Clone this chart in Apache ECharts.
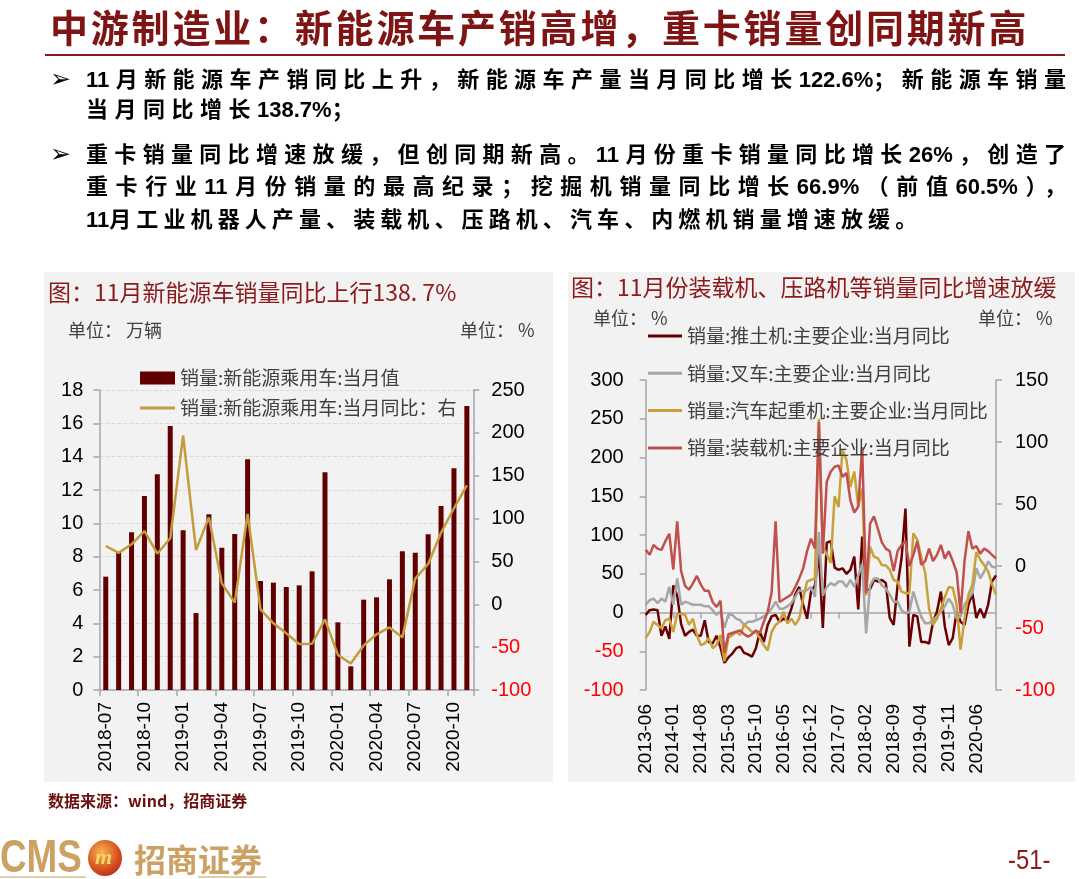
<!DOCTYPE html>
<html><head><meta charset="utf-8">
<script src="https://cdn.jsdelivr.net/npm/echarts@6/dist/echarts.min.js"></script>
<style>
html,body{margin:0;padding:0;background:#fff;width:1080px;height:879px;overflow:hidden;}
#chart{position:absolute;left:0;top:0;width:1080px;height:879px;}
.panel{position:absolute;background:#F2F2F2;}
.t{position:absolute;white-space:nowrap;font-family:"Liberation Sans","Noto Sans CJK SC",sans-serif;}
.b{font-weight:bold;font-size:22px;line-height:30px;color:#000;}
.j{width:980px;text-align:justify;text-align-last:justify;}
.n{letter-spacing:0;}
.arrow{position:absolute;font-family:"DejaVu Sans";font-size:25px;color:#000;line-height:30px;}
</style></head><body>
<div class="panel" style="left:44px;top:272px;width:509px;height:510px"></div>
<div class="panel" style="left:568px;top:272px;width:507px;height:510px"></div>
<div id="chart"></div>

<div class="t" style="left:50px;top:4px;font-size:38px;line-height:44px;font-weight:bold;color:#7F1414;letter-spacing:2.8px;font-family:'Noto Sans CJK SC';">中游制造业：新能源车产销高增，重卡销量创同期新高</div>
<div style="position:absolute;left:45px;top:54px;width:1020px;height:2px;background:#8B1A1A;"></div>

<div class="arrow" style="left:50px;top:64px;">➢</div>
<div class="t b j" style="left:86px;top:65px;">11月新能源车产销同比上升，新能源车产量当月同比增长122.6%；新能源车销量</div>
<div class="t b" style="left:86px;top:95px;letter-spacing:6.5px;">当月同比增长<span class="n">138.7%</span>；</div>
<div class="arrow" style="left:50px;top:139px;">➢</div>
<div class="t b j" style="left:86px;top:140px;">重卡销量同比增速放缓，但创同期新高。11月份重卡销量同比增长26%，创造了</div>
<div class="t b j" style="left:86px;top:172px;">重卡行业11月份销量的最高纪录；挖掘机销量同比增长66.9%（前值60.5%），</div>
<div class="t b" style="left:86px;top:205px;letter-spacing:5.1px;"><span class="n">11</span>月工业机器人产量、装载机、压路机、汽车、内燃机销量增速放缓。</div>

<div class="t" style="left:48px;top:789px;font-size:16px;line-height:22px;font-weight:bold;color:#6B1010;font-family:'Noto Sans CJK SC';">数据来源：wind，招商证券</div>

<div class="t" style="left:0px;top:832px;font-size:46px;line-height:48px;font-weight:bold;color:#CDA163;transform:scaleX(0.8);transform-origin:0 0;">CMS</div>
<div style="position:absolute;left:0px;top:876px;width:86px;height:2px;background:#E3CFA6;"></div>
<div style="position:absolute;left:88px;top:840px;width:34px;height:36px;border-radius:50%;background:radial-gradient(circle at 40% 35%,#F7B54C,#D2461E 60%,#9A1E10);"></div>
<div class="t" style="left:95px;top:842px;font-size:22px;line-height:30px;font-weight:bold;font-style:italic;color:#F8D56B;font-family:'Liberation Serif';">m</div>
<div class="t" style="left:134px;top:838px;font-size:32px;line-height:40px;font-weight:bold;color:#CDA163;font-family:'Noto Sans CJK SC';">招商证券</div>
<div style="position:absolute;left:198px;top:876px;width:68px;height:2px;background:#E3CFA6;"></div>
<div class="t" style="left:1008px;top:844px;font-size:28px;line-height:32px;color:#8B1A1A;transform:scaleX(0.85);transform-origin:0 0;">-51-</div>

<script>
// ---------- Left chart data ----------
const nevMonths = ['2018-07','2018-08','2018-09','2018-10','2018-11','2018-12',
  '2019-01','2019-02','2019-03','2019-04','2019-05','2019-06','2019-07','2019-08','2019-09','2019-10','2019-11','2019-12',
  '2020-01','2020-02','2020-03','2020-04','2020-05','2020-06','2020-07','2020-08','2020-09','2020-10','2020-11'];
const nevSales = [6.8, 8.3, 9.46, 11.64, 12.94, 15.84, 9.58, 4.62, 10.54, 8.54, 9.36, 13.84, 6.54, 6.44, 6.18, 6.28, 7.12, 13.06,
  4.06, 1.42, 5.42, 5.56, 6.64, 8.32, 8.24, 9.34, 11.04, 13.3, 17.04];
const nevYoy = [68, 60, 70, 85.5, 59, 77, 196.7, 63.3, 101.4, 24.4, 1.9, 105.3, -5.9, -22.2, -33.9, -46.4, -46, -17.6,
  -59, -69, -48, -35, -27, -38.6, 30, 47, 83.5, 112, 138.7];

// ---------- Right chart data ----------
const machMonths = ['2013-06','2013-07','2013-08','2013-09','2013-10','2013-11','2013-12',
  '2014-01','2014-02','2014-03','2014-04','2014-05','2014-06','2014-07','2014-08','2014-09','2014-10','2014-11','2014-12',
  '2015-01','2015-02','2015-03','2015-04','2015-05','2015-06','2015-07','2015-08','2015-09','2015-10','2015-11','2015-12',
  '2016-01','2016-02','2016-03','2016-04','2016-05','2016-06','2016-07','2016-08','2016-09','2016-10','2016-11','2016-12',
  '2017-01','2017-02','2017-03','2017-04','2017-05','2017-06','2017-07','2017-08','2017-09','2017-10','2017-11','2017-12',
  '2018-01','2018-02','2018-03','2018-04','2018-05','2018-06','2018-07','2018-08','2018-09','2018-10','2018-11','2018-12',
  '2019-01','2019-02','2019-03','2019-04','2019-05','2019-06','2019-07','2019-08','2019-09','2019-10','2019-11','2019-12',
  '2020-01','2020-02','2020-03','2020-04','2020-05','2020-06','2020-07','2020-08','2020-09','2020-10','2020-11'];
const bulldozer = [-3, 3, 4, 3, -30, -18, -34, 35, 22, -15,
  -30, -25, -22, -30, -30, -10, -38, -40, -30, -45,
  -65, -58, -53, -46, -44, -52, -54, -57, -46, -25,
  -38, -16, -5, -3, -12, -8, -10, 5, 23, 33,
  10, -8, 27, 35, 78, -20, 90, 92, 58, 55,
  57, 50, 55, 72, 4, 98, 29, 30, 42, 40,
  42, 38, -7, -16, 35, 70, 134, -44, -3, -5,
  -38, -38, -40, -12, 1, 27, -18, -42, -33, 1,
  -12, -16, 10, 25, -7, 5, -7, 10, 40, 48];
const forklift = [10, 16, 18, 12, 18, 14, 33, 10, 44, 10,
  14, 12, 10, 10, 10, 8, 8, 3, -3, 1,
  -20, -3, -3, -8, -10, -16, -12, -12, -10, -8,
  -5, -1, 5, 14, 5, 5, 8, 12, 20, 29,
  27, 29, 33, 20, 104, 22, 33, 38, 35, 40,
  40, 33, 42, 33, 48, 63, -27, 35, 44, 44,
  35, 31, 23, 14, 14, 3, -1, 1, 27, 10,
  -5, -14, -14, -10, -5, 1, 8, 18, 10, -8,
  -5, 10, 18, 25, 57, 44, 53, 66, 59, 58];
const crane = [-33, -25, -12, -16, -20, -10, -8, -25, -2, -2,
  -3, -16, -8, -29, -42, -40, -33, -46, -42, -29,
  -63, -33, -29, -25, -29, -16, -20, -25, -25, -33,
  -42, -49, -25, -16, -12, 1, -14, -8, -16, -8,
  18, 40, 42, 44, 250, 85, 75, 64, 150, 136,
  210, 197, 162, 182, 137, 160, 22, 85, 72, 70,
  61, 61, 55, 42, 40, 27, 25, 25, 102, 94,
  72, 51, 5, -16, -8, 5, 20, 33, 32, 10,
  -48, -8, 23, 36, 78, 68, 61, 53, 36, 23];
const loader = [13, 9, 17, 14, 13, 20, 26, -3, 36, -4,
  -16, -19, -14, -8, -15, -20, -20, -29, -33, -28,
  -70, -55, -54, -53, -52, -55, -57, -55, -52, -54,
  -45, -37, -21, 36, -29, -27, -25, -23, -17, -10,
  -2, 12, 22, 14, 116, 10, 68, 76, 80, 81,
  72, 75, 53, 43, 48, 96, -22, 34, 40, 30,
  19, 14, 12, -4, 12, 17, 20, 0, 9, 20,
  1, 4, 14, 4, 9, 17, 6, 12, 4, -5,
  -38, 4, 28, 14, 16, 10, 14, 12, 9, 6];

const leftNames = ['销量:新能源乘用车:当月值', '销量:新能源乘用车:当月同比：右'];
const rightNames = ['销量:推土机:主要企业:当月同比', '销量:叉车:主要企业:当月同比',
  '销量:汽车起重机:主要企业:当月同比', '销量:装载机:主要企业:当月同比'];

const NUM = 'Liberation Sans';
const CJK = 'Noto Sans CJK SC';
const AX = '#A6A6A6';
const negRed = v => (parseFloat(v) < 0 ? '#FF0000' : '#000000');
// line-shaped legend icons (thin bar centred in the icon box)
const lineIconL = 'path://M0,0L35,0L35,0.01L0,0.01Z M0,5L35,5L35,8L0,8Z M0,12.99L35,12.99L35,13L0,13Z';
const lineIconR = 'path://M0,0L34,0L34,0.01L0,0.01Z M0,5.5L34,5.5L34,8.5L0,8.5Z M0,13.99L34,13.99L34,14L0,14Z';

function valAxis(grid, min, max, interval, pos, margin, colorFn, split) {
  return {
    type: 'value', gridIndex: grid, min: min, max: max, interval: interval, position: pos,
    axisLine: { show: true, onZero: false, lineStyle: { color: AX, width: 1.5 } },
    axisTick: { show: true, length: 6, lineStyle: { color: AX, width: 1.5 } },
    axisLabel: { fontSize: 20, fontFamily: NUM, color: colorFn, margin: margin },
    splitLine: split ? { show: true, lineStyle: { color: '#DADADA', type: 'dashed' } } : { show: false }
  };
}

const chart = echarts.init(document.getElementById('chart'));
const option = {
  animation: false,
  grid: [
    { left: 99.3, right: 1080 - 473.3, top: 390, bottom: 879 - 690 },
    { left: 645.7, right: 1080 - 996, top: 380, bottom: 879 - 690 }
  ],
  xAxis: [
    { type: 'category', gridIndex: 0, data: nevMonths, boundaryGap: true,
      axisLine: { onZero: false, lineStyle: { color: AX, width: 1.5 } },
      axisTick: { show: true, interval: 2, alignWithLabel: false, length: 6, lineStyle: { color: AX, width: 1.5 } },
      axisLabel: { interval: 2, rotate: 90, fontSize: 19, fontFamily: NUM, color: '#000', margin: 12 } },
    { type: 'category', gridIndex: 1, data: machMonths, boundaryGap: false, position: 'bottom',
      axisLine: { show: false, onZero: false }, axisTick: { show: false },
      axisLabel: { interval: 6, rotate: 90, fontSize: 19, fontFamily: NUM, color: '#000', margin: 14 } },
    { type: 'category', gridIndex: 1, data: machMonths, boundaryGap: false, position: 'top',
      axisLine: { show: true, onZero: true, onZeroAxisIndex: 2, lineStyle: { color: AX, width: 1.5 } },
      axisTick: { show: true, interval: 6, inside: true, length: 6, lineStyle: { color: AX, width: 1.5 } },
      axisLabel: { show: false } }
  ],
  yAxis: [
    valAxis(0, 0, 18, 2, 'left', 16, '#000', true),
    valAxis(0, -100, 250, 50, 'right', 18, negRed, false),
    valAxis(1, -100, 300, 50, 'left', 22, negRed, false),
    valAxis(1, -100, 150, 50, 'right', 19, negRed, false)
  ],
  legend: [
    { data: [{ name: leftNames[0], icon: 'rect' }, { name: leftNames[1], icon: lineIconL }],
      orient: 'vertical', left: 135, top: 363, itemWidth: 35, itemHeight: 13, itemGap: 10, selectedMode: false,
      itemStyle: { borderWidth: 0 },
      textStyle: { fontSize: 19, fontFamily: CJK, color: '#404040', lineHeight: 20 } },
    { data: rightNames.map(n => ({ name: n, icon: lineIconR })), orient: 'vertical', left: 643, top: 321,
      itemWidth: 34, itemHeight: 14, itemGap: 17.3, selectedMode: false, itemStyle: { borderWidth: 0 },
      textStyle: { fontSize: 19, fontFamily: CJK, color: '#404040', lineHeight: 20 } }
  ],
  graphic: [
    { type: 'text', x: 48, y: 292, style: { text: '图：11月新能源车销量同比上行138. 7%', fill: '#8B1A1A', font: '23px "Noto Sans CJK SC"', verticalAlign: 'middle' } },
    { type: 'text', x: 571, y: 287, style: { text: '图：11月份装载机、压路机等销量同比增速放缓', fill: '#8B1A1A', font: '23px "Noto Sans CJK SC"', verticalAlign: 'middle' } },
    { type: 'text', x: 68, y: 330, style: { text: '单位： 万辆', fill: '#404040', font: '18px "Noto Sans CJK SC"', verticalAlign: 'middle' } },
    { type: 'text', x: 460, y: 330, style: { text: '单位： %', fill: '#404040', font: '18px "Noto Sans CJK SC"', verticalAlign: 'middle' } },
    { type: 'text', x: 593, y: 318, style: { text: '单位： %', fill: '#404040', font: '18px "Noto Sans CJK SC"', verticalAlign: 'middle' } },
    { type: 'text', x: 978, y: 318, style: { text: '单位： %', fill: '#404040', font: '18px "Noto Sans CJK SC"', verticalAlign: 'middle' } }
  ],
  series: [
    { name: leftNames[0], type: 'bar', xAxisIndex: 0, yAxisIndex: 0, data: nevSales, barWidth: 5,
      itemStyle: { color: '#600000' } },
    { name: leftNames[1], type: 'line', xAxisIndex: 0, yAxisIndex: 1, data: nevYoy, symbol: 'none',
      lineStyle: { color: '#C39B3C', width: 2.5 }, itemStyle: { color: '#C39B3C' } },
    { name: rightNames[0], type: 'line', xAxisIndex: 1, yAxisIndex: 2, data: bulldozer, symbol: 'none',
      lineStyle: { color: '#6B0000', width: 2.5 }, itemStyle: { color: '#6B0000' } },
    { name: rightNames[1], type: 'line', xAxisIndex: 1, yAxisIndex: 2, data: forklift, symbol: 'none',
      lineStyle: { color: '#A6A6A6', width: 2.5 }, itemStyle: { color: '#A6A6A6' } },
    { name: rightNames[2], type: 'line', xAxisIndex: 1, yAxisIndex: 2, data: crane, symbol: 'none',
      lineStyle: { color: '#C9A13B', width: 2.5 }, itemStyle: { color: '#C9A13B' } },
    { name: rightNames[3], type: 'line', xAxisIndex: 1, yAxisIndex: 3, data: loader, symbol: 'none',
      lineStyle: { color: '#C0504D', width: 2.5 }, itemStyle: { color: '#C0504D' } }
  ]
};
chart.setOption(option);
</script>
</body></html>
